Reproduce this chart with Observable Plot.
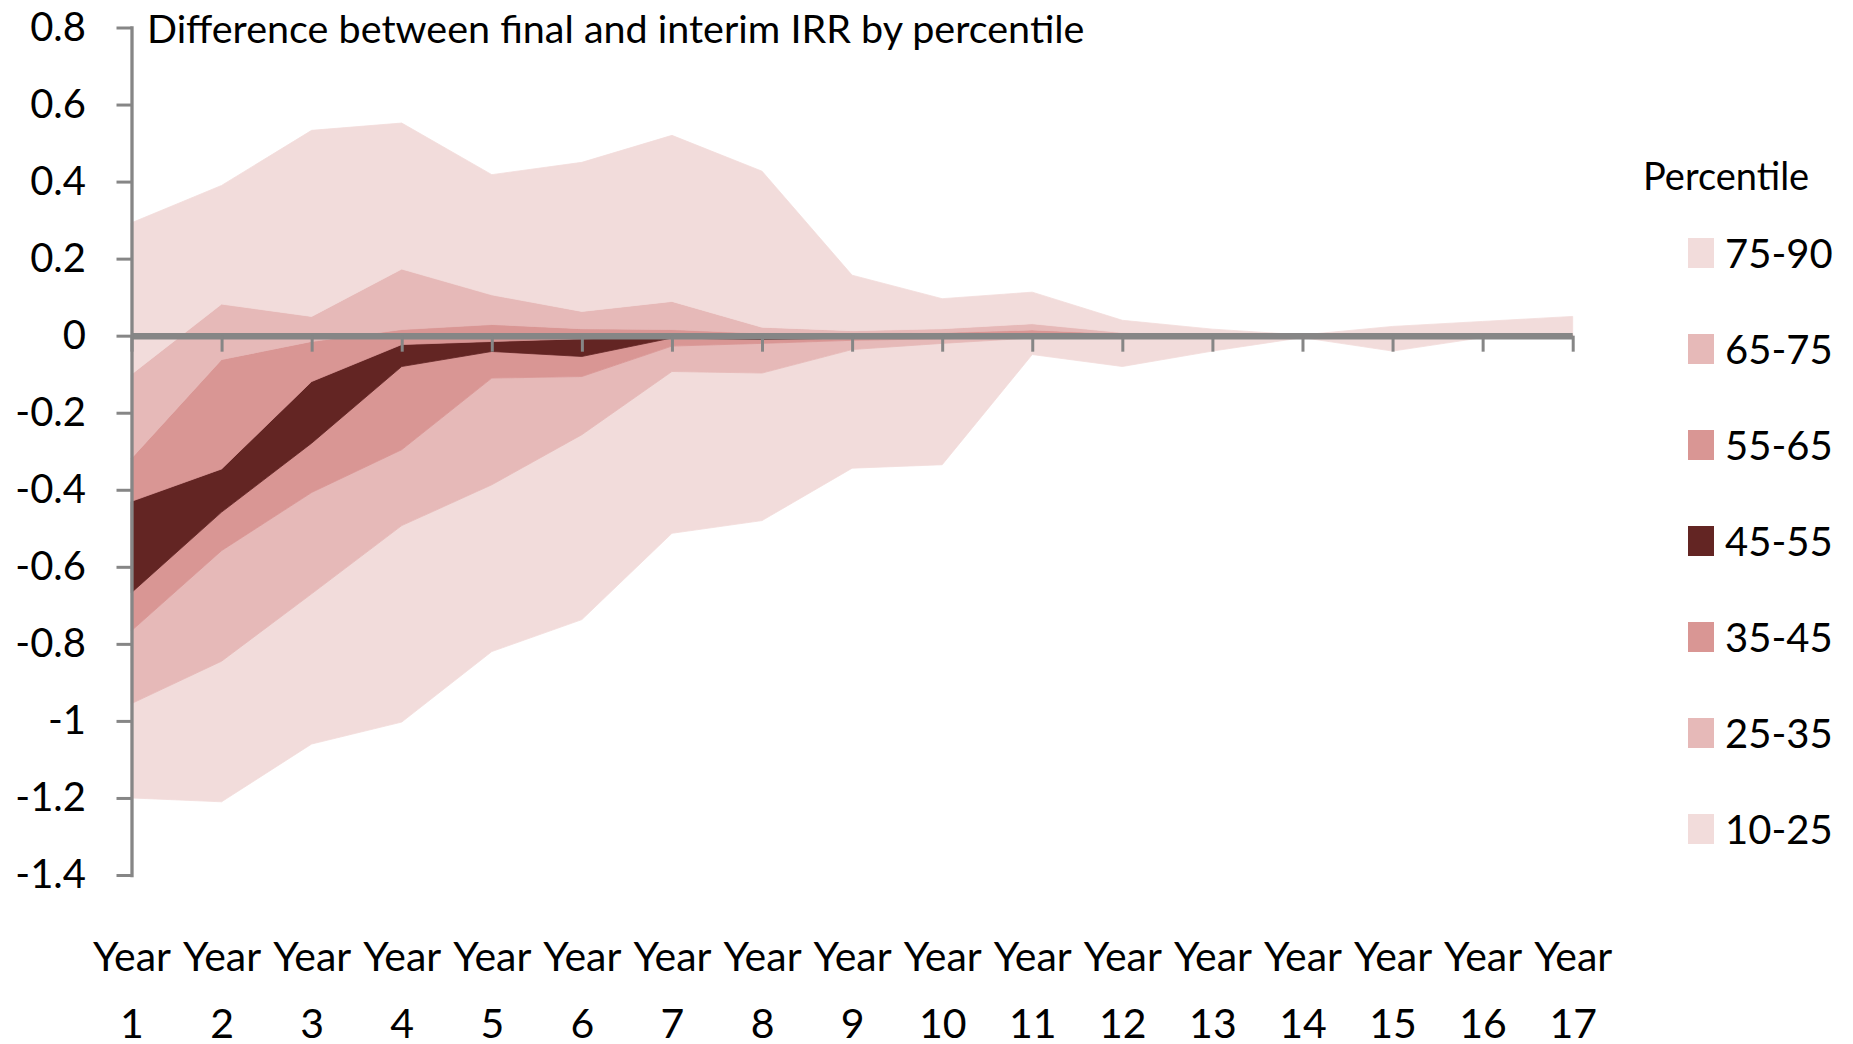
<!DOCTYPE html>
<html><head><meta charset="utf-8">
<script src="https://cdn.jsdelivr.net/npm/d3@7"></script>
<script src="https://cdn.jsdelivr.net/npm/@observablehq/plot@0.6"></script>
<style>
html,body{margin:0;padding:0;background:#fff;}
#wrap{position:relative;width:1853px;height:1044px;font-family:Lato,"Open Sans",sans-serif;}
#wrap > svg{position:absolute;left:0;top:0;}
</style></head><body><div id="wrap"></div>
<script>
const title = "Difference between final and interim IRR by percentile";
const legendTitle = "Percentile";
const years = [1,2,3,4,5,6,7,8,9,10,11,12,13,14,15,16,17];
const yTicks = [-1.4,-1.2,-1,-0.8,-0.6,-0.4,-0.2,0,0.2,0.4,0.6,0.8];
// percentile boundaries of the final-minus-interim IRR difference
const p10 = [-1.20,-1.21,-1.06,-1.003,-0.82,-0.737,-0.513,-0.48,-0.344,-0.335,-0.049,-0.08,-0.04,-0.005,-0.04,-0.005,0.0];
const p25 = [-0.955,-0.845,-0.67,-0.493,-0.387,-0.257,-0.093,-0.097,-0.036,-0.02,-0.006,-0.004,-0.002,-0.001,-0.003,-0.001,0];
const p35 = [-0.766,-0.558,-0.407,-0.296,-0.11,-0.106,-0.027,-0.02,-0.012,-0.008,-0.003,-0.002,-0.001,0,-0.001,0,0];
const p45 = [-0.667,-0.458,-0.279,-0.08,-0.041,-0.054,-0.006,-0.01,-0.006,-0.004,0,0,0,0,0,0,0];
const p55 = [-0.43,-0.346,-0.119,-0.023,-0.015,-0.008,-0.003,-0.005,-0.002,0,0.004,0.002,0.001,0,0,0,0];
const p65 = [-0.318,-0.062,-0.015,0.016,0.029,0.018,0.016,0.006,0.004,0.008,0.015,0.005,0.002,0,0.001,0.001,0.001];
const p75 = [-0.10,0.082,0.05,0.173,0.106,0.063,0.089,0.022,0.013,0.018,0.031,0.008,0.004,0.001,0.003,0.003,0.003];
const p90 = [0.293,0.39,0.533,0.552,0.418,0.45,0.52,0.427,0.157,0.096,0.113,0.04,0.017,0.002,0.024,0.037,0.05];
const bandLabels = ["10-25","25-35","35-45","45-55","55-65","65-75","75-90"];
const bandColors = ["#F2DCDB","#E6B9B8","#D99694","#632523","#D99694","#E6B9B8","#F2DCDB"];

const bounds = [p10,p25,p35,p45,p55,p65,p75,p90];
const rows = [];
bandLabels.forEach((b,k)=>years.forEach((yr,i)=>rows.push({band:b, year:yr, lo:bounds[k][i], hi:bounds[k+1][i]})));

const gray = "#868686";
const chart = Plot.plot({
  width:1853, height:1044,
  marginLeft:131.5, marginRight:280.3, marginTop:27.5, marginBottom:169,
  style:{fontFamily:"Lato, 'Open Sans', sans-serif", background:"transparent", overflow:"visible", color:"#000"},
  x:{type:"linear", domain:[1,17], axis:null},
  y:{domain:[-1.4,0.8], axis:null},
  color:{domain:bandLabels, range:bandColors},
  marks:[
    Plot.areaY(rows,{x:"year", y1:"lo", y2:"hi", z:"band", fill:"band", stroke:"band", strokeWidth:0.8, curve:"linear"}),
    Plot.ruleY([0],{stroke:gray, strokeWidth:6.5}),
    Plot.ruleX(years,{x:d=>d, y1:0, y2:0, insetBottom:-16, stroke:gray, strokeWidth:3}),
    Plot.frame({anchor:"left", stroke:gray, strokeWidth:3.3}),
    Plot.axisY({ticks:yTicks, anchor:"left", tickSize:15, tickPadding:31, tickFormat:d=>String(+d.toFixed(1)), stroke:gray, strokeWidth:3, fill:"#000", fontSize:40}),
    Plot.text(years,{x:d=>d, frameAnchor:"bottom", dy:95.5, text:()=>"Year", fontSize:41, fill:"#000"}),
    Plot.text(years,{x:d=>d, frameAnchor:"bottom", dy:162, text:d=>String(d), fontSize:41, fill:"#000"})
  ]
});
document.getElementById("wrap").appendChild(chart);

// title and legend overlay
const ov = d3.select("#wrap").append("svg").attr("width",1853).attr("height",1044)
  .style("pointer-events","none").style("font-family","Lato, 'Open Sans', sans-serif");
ov.append("text").attr("x",147).attr("y",43).attr("font-size",39.5).attr("fill","#000").text(title);
ov.append("text").attr("x",1643).attr("y",190).attr("font-size",38).attr("fill","#000").text(legendTitle);
const order = bandLabels.map((b,i)=>({b, c:bandColors[i]})).reverse();
order.forEach((d,i)=>{
  const cy = 253 + i*96;
  ov.append("rect").attr("x",1688).attr("y",cy-15).attr("width",26).attr("height",30).attr("fill",d.c);
  ov.append("text").attr("x",1725).attr("y",cy+14.5).attr("font-size",40).attr("fill","#000").text(d.b);
});
</script></body></html>
